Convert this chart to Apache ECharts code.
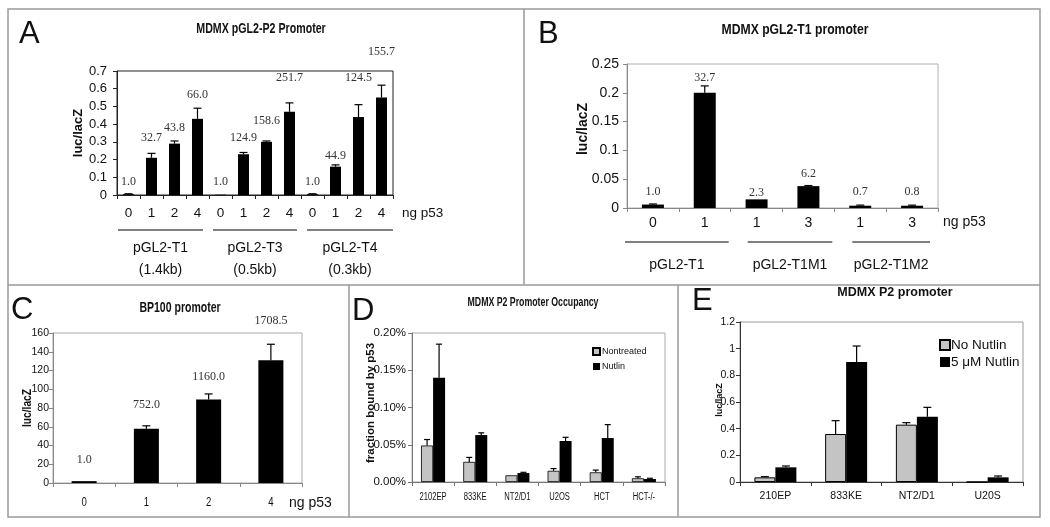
<!DOCTYPE html>
<html><head><meta charset="utf-8">
<script src="https://cdn.jsdelivr.net/npm/echarts@6/dist/echarts.min.js"></script>
<style>html,body{margin:0;padding:0;background:#fff}#c{width:1050px;height:527px}</style>
</head><body><div id="c"></div>
<script>
// ---------- Panel A: MDMX pGL2-P2 Promoter ----------
const aDoses = ['0','1','2','4','0','1','2','4','0','1','2','4'];
const aGroups = ['pGL2-T1','pGL2-T3','pGL2-T4'];
const aSizes = ['(1.4kb)','(0.5kb)','(0.3kb)'];
const aGroupSize = 4;
const aValues = [0.005,0.21,0.29,0.43, 0.002,0.23,0.30,0.47, 0.005,0.16,0.44,0.55];
const aErrors = [0.002,0.025,0.015,0.06, 0,0.01,0.005,0.05, 0.002,0.01,0.07,0.07];
const aFold = ['1.0','32.7','43.8','66.0','1.0','124.9','158.6','251.7','1.0','44.9','124.5','155.7'];

// ---------- Panel B: MDMX pGL2-T1 promoter ----------
const bDoses = ['0','1','1','3','1','3'];
const bGroups = ['pGL2-T1','pGL2-T1M1','pGL2-T1M2'];
const bGroupSize = 2;
const bValues = [0.006,0.200,0.015,0.038,0.004,0.004];
const bErrors = [0.001,0.012,0,0.001,0.001,0.001];
const bFold = ['1.0','32.7','2.3','6.2','0.7','0.8'];

// ---------- Panel C: BP100 promoter ----------
const cDoses = ['0','1','2','4'];
const cValues = [2,58,89,131];
const cErrors = [0,3,6,17];
const cFold = ['1.0','752.0','1160.0','1708.5'];

// ---------- Panel D: MDMX P2 Promoter Occupancy (% bound) ----------
const dCells = ['2102EP','833KE','NT2/D1','U2OS','HCT','HCT-/-'];
const dNontreated = [0.049,0.027,0.009,0.015,0.013,0.005];
const dNontreatedErr = [0.008,0.006,0,0.003,0.003,0.002];
const dNutlin = [0.140,0.063,0.012,0.055,0.059,0.004];
const dNutlinErr = [0.045,0.003,0.001,0.005,0.018,0.001];

// ---------- Panel E: MDMX P2 promoter ----------
const eCells = ['210EP','833KE','NT2/D1','U20S'];
const eNoNutlin = [0.035,0.36,0.43,0];
const eNoNutlinErr = [0.005,0.10,0.015,0];
const eNutlin = [0.11,0.90,0.49,0.035];
const eNutlinErr = [0.01,0.12,0.07,0.01];

// ---------- layout / style (not data) ----------
const SANS = "'Liberation Sans', Arial, sans-serif";
const SERIF = "'Liberation Serif', 'Times New Roman', serif";
const aLift = [12,16,13,13,13,15,20,25,12,9,27,33];
const bLift = [12,8,7,12,13,13];
const cLift = [21,21,17,23];

const chart = echarts.init(document.getElementById('c'));

function xCat(gi, data, fontSize, margin, lineColor, hideLabels) {
  return {
    type:'category', gridIndex:gi, data:data.map((d,i)=>'k'+i),
    axisLine:{show:true, lineStyle:{color:lineColor, width:1}},
    axisTick:{show:true, interval:0, alignWithLabel:false, length:4, lineStyle:{color:lineColor}},
    axisLabel:{show:!hideLabels, interval:0, margin:margin, fontSize:fontSize, fontFamily:SANS, color:'#111',
      formatter:(v,i)=>data[i]},
    splitLine:{show:false}
  };
}
function yVal(gi, min, max, interval, fontSize, margin, lineColor, fmt) {
  return {
    type:'value', gridIndex:gi, min:min, max:max, interval:interval,
    axisLine:{show:true, lineStyle:{color:lineColor, width:1}},
    axisTick:{show:true, length:4, lineStyle:{color:lineColor}},
    axisLabel:{margin:margin, fontSize:fontSize, fontFamily:SANS, color:'#111', formatter:fmt},
    splitLine:{show:false}
  };
}
function errSeries(ai, values, errors, labels, lifts, offset, cap, labelFont) {
  return {
    type:'custom', xAxisIndex:ai, yAxisIndex:ai, silent:true, z:5, clip:false,
    data: values.map((v,i)=>[i, v]),
    renderItem(params, api){
      const i = params.dataIndex;
      const v = values[i], e = errors[i];
      const b = api.coord([i, v]);
      const t = api.coord([i, v + e]);
      const x = b[0] + offset;
      const ch = [];
      if (e > 0) {
        ch.push({type:'line', shape:{x1:x, y1:b[1], x2:x, y2:t[1]}, style:{stroke:'#000', lineWidth:1.2}});
        ch.push({type:'line', shape:{x1:x-cap, y1:t[1], x2:x+cap, y2:t[1]}, style:{stroke:'#000', lineWidth:1.2}});
      }
      if (labels) {
        ch.push({type:'text', x:x, y:t[1]-lifts[i],
          style:{text:labels[i], fill:'#333', font:labelFont, align:'center', verticalAlign:'middle'}});
      }
      return {type:'group', children:ch};
    }
  };
}
// category tick labels drawn with horizontal compression (narrow face look)
function narrowLabels(ai, labels, dy, font, sx) {
  return {
    type:'custom', xAxisIndex:ai, yAxisIndex:ai, silent:true, clip:false,
    data: labels.map((l,i)=>[i, 0]),
    renderItem(params, api){
      const i = params.dataIndex;
      const p = api.coord([i, 0]);
      return {type:'text', x:p[0], y:p[1]+dy, scaleX:sx, scaleY:1,
        style:{text:labels[i], fill:'#111', font:font, align:'center', verticalAlign:'middle'}};
    }
  };
}
function groupSeries(ai, groups, size, subs, lineDy, labDy, subDy, insets, font) {
  return {
    type:'custom', xAxisIndex:ai, yAxisIndex:ai, silent:true, clip:false,
    data: groups.map((g,k)=>[k*size, 0]),
    renderItem(params, api){
      const k = params.dataIndex;
      const bw = api.size([1,0])[0];
      const p0 = api.coord([k*size, 0]);
      const p1 = api.coord([k*size+size-1, 0]);
      const x0 = p0[0] - bw/2 + insets[k][0];
      const x1 = p1[0] + bw/2 - insets[k][1];
      const y = p0[1];
      const cx = (x0 + x1)/2 + insets[k][2];
      const ch = [
        {type:'line', shape:{x1:x0, y1:y+lineDy, x2:x1, y2:y+lineDy}, style:{stroke:'#000', lineWidth:1.2}},
        {type:'text', x:cx, y:y+labDy, style:{text:groups[k], fill:'#111', font:font, align:'center', verticalAlign:'middle'}}
      ];
      if (subs) ch.push({type:'text', x:cx, y:y+subDy, style:{text:subs[k], fill:'#111', font:font, align:'center', verticalAlign:'middle'}});
      return {type:'group', children:ch};
    }
  };
}

const border = '#9a9a9a';
function txt(x, y, text, font, opts, sx) {
  return {type:'text', x:x, y:y, silent:true, scaleX:sx||1, scaleY:1,
    style:Object.assign({text:text, font:font, fill:'#111', align:'left', verticalAlign:'middle'}, opts||{})};
}
function vtxt(x, y, text, font, sy) {
  return {type:'text', x:x, y:y, rotation:Math.PI/2, silent:true, scaleX:sy||1, scaleY:1,
    style:{text:text, font:font, fill:'#111', align:'center', verticalAlign:'middle'}};
}

const option = {
  animation:false,
  backgroundColor:'#fff',
  grid:[
    {left:117, top:71, width:276, height:124, show:true, borderColor:'#222', borderWidth:1, outerBoundsMode:'none'},
    {left:627, top:64, width:311, height:144, show:true, borderColor:'#b0b0b0', borderWidth:1, outerBoundsMode:'none'},
    {left:53, top:333, width:249, height:150, show:true, borderColor:'#aaa', borderWidth:1, outerBoundsMode:'none'},
    {left:412, top:333, width:253, height:149, show:true, borderColor:'#aaa', borderWidth:1, outerBoundsMode:'none'},
    {left:740, top:322, width:283, height:160, show:true, borderColor:'#999', borderWidth:1, outerBoundsMode:'none'}
  ],
  xAxis:[
    xCat(0, aDoses, 13.5, 11, '#222'),
    xCat(1, bDoses, 14, 8, '#888'),
    xCat(2, cDoses, 12, 14, '#888', true),
    xCat(3, dCells, 9.5, 10, '#777', true),
    xCat(4, eCells, 10.5, 9, '#333')
  ],
  yAxis:[
    yVal(0, 0, 0.7, 0.1, 13, 10, '#222', v=>v===0?'0':v.toFixed(1)),
    yVal(1, 0, 0.25, 0.05, 14, 8, '#888', v=>v===0?'0':String(+v.toFixed(2))),
    yVal(2, 0, 160, 20, 10.5, 4, '#888', v=>String(v)),
    yVal(3, 0, 0.2, 0.05, 11.5, 6, '#777', v=>v.toFixed(2)+'%'),
    yVal(4, 0, 1.2, 0.2, 10.5, 5, '#333', v=>String(+v.toFixed(1)))
  ],
  legend:[
    {show:true, orient:'vertical', left:587, top:342, itemWidth:7, itemHeight:7, itemGap:6, icon:'rect',
     data:['Nontreated','Nutlin'], textStyle:{fontFamily:SANS, fontSize:9, color:'#111', padding:[0,0,0,-3]}},
    {show:true, orient:'vertical', left:934, top:333, itemWidth:10, itemHeight:10, itemGap:3, icon:'rect',
     data:['No Nutlin','5 μM Nutlin'], textStyle:{fontFamily:SANS, fontSize:13.5, color:'#111', padding:[0,0,0,-4]}}
  ],
  series:[
    {type:'bar', xAxisIndex:0, yAxisIndex:0, data:aValues, barWidth:11, itemStyle:{color:'#000'}},
    errSeries(0, aValues, aErrors, aFold, aLift, 0, 4, '12px '+SERIF),
    groupSeries(0, aGroups, aGroupSize, aSizes, 35, 53, 75, [[1,6,0],[4,4,0],[6,0,0]], '14px '+SANS),

    {type:'bar', xAxisIndex:1, yAxisIndex:1, data:bValues, barWidth:22, itemStyle:{color:'#000'}},
    errSeries(1, bValues, bErrors, bFold, bLift, 0, 4, '12px '+SERIF),
    groupSeries(1, bGroups, bGroupSize, null, 34, 57, 0, [[-2,2,0],[17,2,0],[18,8,0]], '14px '+SANS),

    {type:'bar', xAxisIndex:2, yAxisIndex:2, data:cValues, barWidth:25, itemStyle:{color:'#000'}},
    errSeries(2, cValues, cErrors, cFold, cLift, 0, 4, '12px '+SERIF),
    narrowLabels(2, cDoses, 20, '12px '+SANS, 0.8),

    {type:'bar', name:'Nontreated', xAxisIndex:3, yAxisIndex:3, data:dNontreated, barWidth:12, barGap:'0%',
     itemStyle:{color:'#c4c4c4', borderColor:'#000', borderWidth:0.8}},
    {type:'bar', name:'Nutlin', xAxisIndex:3, yAxisIndex:3, data:dNutlin, barWidth:12, barGap:'0%',
     itemStyle:{color:'#000'}},
    errSeries(3, dNontreated, dNontreatedErr, null, null, -6, 3, ''),
    errSeries(3, dNutlin, dNutlinErr, null, null, 6, 3, ''),
    narrowLabels(3, dCells, 15, '10px '+SANS, 0.76),

    {type:'bar', name:'No Nutlin', xAxisIndex:4, yAxisIndex:4, data:eNoNutlin, barWidth:21, barGap:'0%',
     itemStyle:{color:'#c4c4c4', borderColor:'#000', borderWidth:1}},
    {type:'bar', name:'5 μM Nutlin', xAxisIndex:4, yAxisIndex:4, data:eNutlin, barWidth:21, barGap:'0%',
     itemStyle:{color:'#000'}},
    errSeries(4, eNoNutlin, eNoNutlinErr, null, null, -10.5, 4, ''),
    errSeries(4, eNutlin, eNutlinErr, null, null, 10.5, 4, '')
  ],
  graphic:[
    {type:'rect', silent:true, shape:{x:8, y:9, width:1032, height:508}, style:{fill:'none', stroke:border, lineWidth:1.5}},
    {type:'line', silent:true, shape:{x1:524, y1:9, x2:524, y2:285}, style:{stroke:border, lineWidth:1.5}},
    {type:'line', silent:true, shape:{x1:8, y1:285, x2:1040, y2:285}, style:{stroke:border, lineWidth:1.5}},
    {type:'line', silent:true, shape:{x1:349, y1:285, x2:349, y2:517}, style:{stroke:border, lineWidth:1.5}},
    {type:'line', silent:true, shape:{x1:678, y1:285, x2:678, y2:517}, style:{stroke:border, lineWidth:1.5}},

    txt(19, 34, 'A', '31px '+SANS),
    txt(538, 34, 'B', '31px '+SANS),
    txt(11, 310, 'C', '31px '+SANS),
    txt(352, 311, 'D', '31px '+SANS),
    txt(692, 301, 'E', '31px '+SANS),

    txt(261, 29, 'MDMX pGL2-P2 Promoter', 'bold 14px '+SANS, {align:'center'}, 0.76),
    txt(795, 30, 'MDMX pGL2-T1 promoter', 'bold 14.5px '+SANS, {align:'center'}, 0.84),
    txt(180, 308, 'BP100 promoter', 'bold 14px '+SANS, {align:'center'}, 0.75),
    txt(533, 303, 'MDMX P2 Promoter Occupancy', 'bold 12px '+SANS, {align:'center'}, 0.73),
    txt(895, 293, 'MDMX P2 promoter', 'bold 12.5px '+SANS, {align:'center'}),

    vtxt(78, 133, 'luc/lacZ', 'bold 13px '+SANS),
    vtxt(583, 129, 'luc/lacZ', 'bold 14px '+SANS),
    vtxt(28, 408, 'luc/lacZ', 'bold 12px '+SANS, 0.85),
    vtxt(371, 403, 'fraction bound by p53', 'bold 11.5px '+SANS),
    vtxt(720, 400, 'luc/lacZ', 'bold 9px '+SANS),

    txt(402, 213, 'ng p53', '13.5px '+SANS),
    txt(943, 222, 'ng p53', '14px '+SANS),
    txt(289, 503, 'ng p53', '14px '+SANS)
  ]
};
chart.setOption(option);
</script>
</body></html>
